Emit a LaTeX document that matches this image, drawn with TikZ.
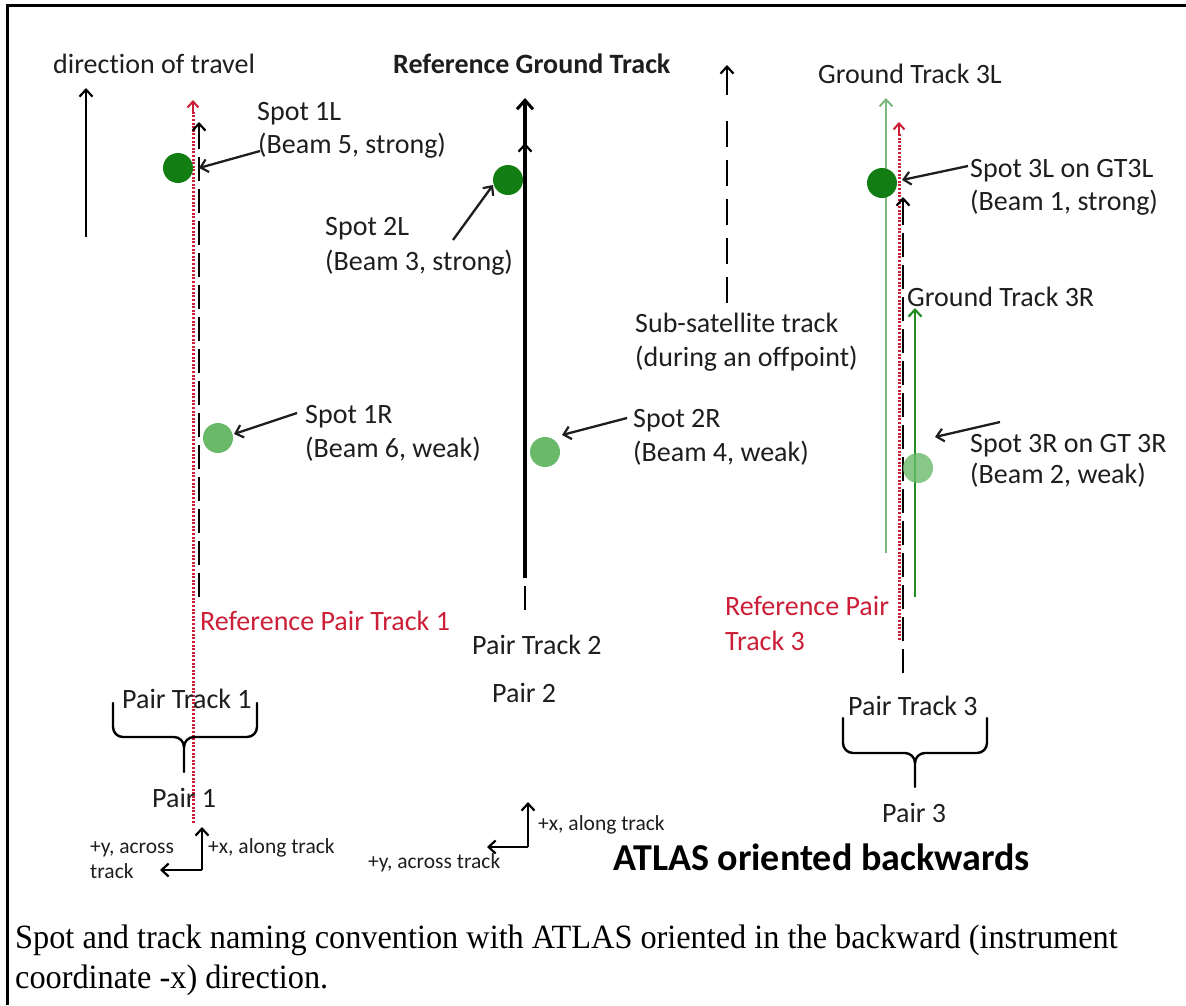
\documentclass[tikz,border=0pt]{standalone}
\usepackage{fontspec}
\setmainfont{Carlito}[Ligatures={NoCommon,NoContextual}]
\newfontfamily\capfont{Liberation Serif}
\usetikzlibrary{arrows.meta}
\definecolor{dkgreen}{RGB}{18,125,18}
\definecolor{ltgreen}{RGB}{105,185,105}
\definecolor{palegreen}{RGB}{125,185,125}
\definecolor{midgreen}{RGB}{35,140,35}
\definecolor{refred}{RGB}{205,30,55}
\definecolor{txt}{RGB}{30,30,30}
\begin{document}
\begin{tikzpicture}[x=1pt,y=-1pt,
  lbl/.style={font=\fontsize{28}{34}\selectfont, anchor=base west, inner sep=0pt, text=txt},
  blbl/.style={lbl, font=\fontsize{28}{34}\selectfont\bfseries},
  rlbl/.style={lbl, text=refred},
  slbl/.style={lbl, font=\fontsize{21.5}{26}\selectfont},
  caplbl/.style={anchor=base west, inner sep=0pt, xscale=0.95, font=\capfont\fontsize{34}{40}\selectfont},
  tipA/.style={-{Straight Barb[length=7pt,width=13pt,line width=2.2pt]}},
  lab/.style={tipA, line width=2.3pt, txt},
  dir/.style={tipA, line width=2.5pt, black},
  pairdash/.style={line width=2.6pt, black, dash pattern=on 24pt off 8pt},
  reddot/.style={line width=3pt, refred, dash pattern=on 2pt off 1.6pt},
  redtip/.style={-{Straight Barb[length=6pt,width=11pt,line width=2pt]}, line width=2.4pt, refred},
  brace/.style={line width=2.4pt, black, line cap=round, line join=round},
  strongspot/.style={circle, fill=dkgreen, minimum size=30pt, inner sep=0pt},
  weakspot/.style={circle, fill=ltgreen, minimum size=30pt, inner sep=0pt},
]
\useasboundingbox (0,0) rectangle (1186,1005);
\draw[line width=3pt] (7,1005) -- (7,5) -- (1186,5);

% ---------- left column ----------
\node[lbl] (dirtxt) at (53,73) {direction of travel};
\coordinate (dirA) at (86,237);
\coordinate (dirB) at (86,88);
\draw[dir] (dirA) -- (dirB);

\coordinate (r1a) at (193,823);
\coordinate (r1m) at (193,112);
\coordinate (r1b) at (193,100);
\draw[reddot] (r1a) -- (r1m);
\draw[redtip] (r1m) -- (r1b);
\coordinate (p1a) at (199,597);
\coordinate (p1m) at (199,140);
\coordinate (p1b) at (199,122);
\draw[pairdash] (p1a) -- (p1m);
\draw[dir] (p1m) -- (p1b);

\node[strongspot] (s1L) at (178,168) {};
\node[weakspot] (s1R) at (218,438) {};

\node[lbl] (l1La) at (257,120) {Spot 1L};
\node[lbl] (l1Lb) at (258,153) {(Beam 5, strong)};
\coordinate (a1Lt) at (260,151);
\coordinate (a1Lh) at (199,168);
\draw[lab] (a1Lt) -- (a1Lh);

\node[lbl] (l1Ra) at (305,423) {Spot 1R};
\node[lbl] (l1Rb) at (305,457) {(Beam 6, weak)};
\coordinate (a1Rt) at (297,413);
\coordinate (a1Rh) at (234,434);
\draw[lab] (a1Rt) -- (a1Rh);

\node[rlbl] (rp1) at (200,630) {Reference Pair Track 1};
\node[lbl] (pt1) at (122,708) {Pair Track 1};
\node[lbl] (pr1) at (152,807) {Pair 1};
\draw[brace] (113,703) -- (113,727) to[out=-90,in=180] (123,737) -- (174,737) to[out=0,in=90] (184,747) -- (184,772);
\draw[brace] (257,703) -- (257,727) to[out=-90,in=0] (247,737) -- (194,737) to[out=180,in=90] (184,747);

\coordinate (ax1) at (202,870);
\coordinate (ax1u) at (202,827);
\coordinate (ax1l) at (160,870);
\draw[dir, line width=2.3pt] (ax1) -- (ax1u);
\draw[dir, line width=2.3pt] (ax1) -- (ax1l);
\node[slbl] (ax1ya) at (90,853) {+y, across};
\node[slbl] (ax1yb) at (90,878) {track};
\node[slbl] (ax1x) at (208,853) {+x, along track};

% ---------- middle column ----------
\node[blbl] (rgt) at (393,73) {Reference Ground Track};
\coordinate (p2a) at (525,610);
\coordinate (p2m) at (525,160);
\coordinate (p2b) at (525,143);
\draw[pairdash] (p2a) -- (p2m);
\draw[dir] (p2m) -- (p2b);
\coordinate (g2a) at (525,578);
\coordinate (g2b) at (525,98);
\draw[-{Straight Barb[length=9pt,width=16pt,line width=3pt]}, line width=4.5pt] (g2a) -- (g2b);

\node[strongspot] (s2L) at (508,180) {};
\node[weakspot] (s2R) at (545,452) {};

\node[lbl] (l2La) at (325,235) {Spot 2L};
\node[lbl] (l2Lb) at (325,270) {(Beam 3, strong)};
\coordinate (a2Lt) at (453,240);
\coordinate (a2Lh) at (493,185);
\draw[lab] (a2Lt) -- (a2Lh);

\node[lbl] (l2Ra) at (633,427) {Spot 2R};
\node[lbl] (l2Rb) at (633,461) {(Beam 4, weak)};
\coordinate (a2Rt) at (627,418);
\coordinate (a2Rh) at (562,435);
\draw[lab] (a2Rt) -- (a2Rh);

\node[lbl] (pt2) at (472,654) {Pair Track 2};
\node[lbl] (pr2) at (492,702) {Pair 2};

\coordinate (ax2) at (528,847);
\coordinate (ax2u) at (528,802);
\coordinate (ax2l) at (487,847);
\draw[dir, line width=2.3pt] (ax2) -- (ax2u);
\draw[dir, line width=2.3pt] (ax2) -- (ax2l);
\node[slbl] (ax2x) at (538,830) {+x, along track};
\node[slbl] (ax2y) at (368,868) {+y, across track};

% sub-satellite track
\coordinate (ssa) at (727,303);
\coordinate (ssd) at (727,108);
\coordinate (ssm) at (727,95);
\coordinate (ssb) at (727,65);
\draw[line width=2.6pt, dash pattern=on 26pt off 13pt] (ssa) -- (ssd);
\draw[dir, line width=2.6pt] (ssm) -- (ssb);
\node[lbl] (ss1) at (635,332) {Sub-satellite track};
\node[lbl] (ss2) at (635,366) {(during an offpoint)};

% ---------- right column ----------
\node[lbl] (gt3l) at (818,83) {Ground Track 3L};
\coordinate (g3La) at (886,553);
\coordinate (g3Lb) at (886,98);
\draw[-{Straight Barb[length=7pt,width=13pt,line width=2pt]}, line width=2.4pt, palegreen] (g3La) -- (g3Lb);
\coordinate (r3a) at (899,640);
\coordinate (r3m) at (899,134);
\coordinate (r3b) at (899,122);
\draw[reddot] (r3a) -- (r3m);
\draw[redtip] (r3m) -- (r3b);
\coordinate (p3a) at (903,673);
\coordinate (p3m) at (903,214);
\coordinate (p3b) at (903,197);
\draw[pairdash] (p3a) -- (p3m);
\draw[dir] (p3m) -- (p3b);
\coordinate (g3Ra) at (915,597);
\coordinate (g3Rb) at (915,308);
\draw[-{Straight Barb[length=7pt,width=13pt,line width=2.2pt]}, line width=2.8pt, midgreen] (g3Ra) -- (g3Rb);

\node[strongspot] (s3L) at (882,183) {};
\node[weakspot, opacity=0.8] (s3R) at (918,468) {};

\node[lbl] (l3La) at (970,177) {Spot 3L on GT3L};
\node[lbl] (l3Lb) at (970,210) {(Beam 1, strong)};
\coordinate (a3Lt) at (968,166);
\coordinate (a3Lh) at (902,180);
\draw[lab] (a3Lt) -- (a3Lh);

\node[lbl] (gt3r) at (907,306) {Ground Track 3R};

\node[lbl] (l3Ra) at (970,452) {Spot 3R on GT 3R};
\node[lbl] (l3Rb) at (970,483) {(Beam 2, weak)};
\coordinate (a3Rt) at (1000,422);
\coordinate (a3Rh) at (935,437);
\draw[lab] (a3Rt) -- (a3Rh);

\node[rlbl] (rp3a) at (725,615) {Reference Pair};
\node[rlbl] (rp3b) at (725,650) {Track 3};

\node[lbl] (pt3) at (848,715) {Pair Track 3};
\node[lbl] (pr3) at (882,822) {Pair 3};
\draw[brace] (843,718) -- (843,743) to[out=-90,in=180] (853,753) -- (905,753) to[out=0,in=90] (915,763) -- (915,787);
\draw[brace] (987,718) -- (987,743) to[out=-90,in=0] (977,753) -- (925,753) to[out=180,in=90] (915,763);

\node[lbl, font=\fontsize{38}{44}\selectfont\bfseries, text=black] (atlas) at (613,870) {ATLAS oriented backwards};

% ---------- caption ----------
\node[caplbl] (cap1) at (15,948) {Spot and track naming convention with ATLAS oriented in the backward (instrument};
\node[caplbl] (cap2) at (15,988) {coordinate -x) direction.};
\end{tikzpicture}
\end{document}
